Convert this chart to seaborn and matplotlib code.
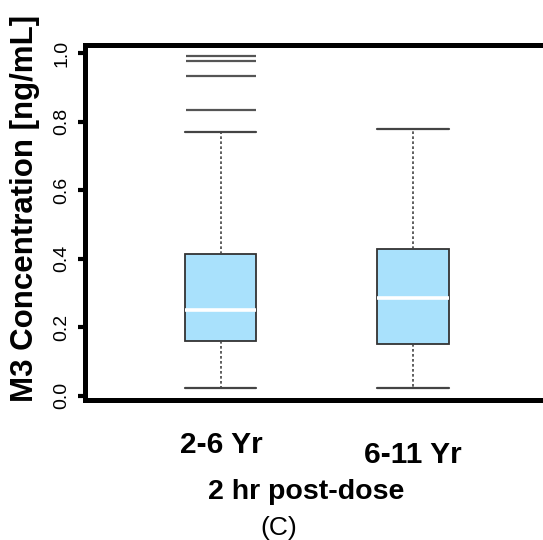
import matplotlib
matplotlib.use("Agg")
import matplotlib.pyplot as plt
import matplotlib.transforms as mtransforms
import numpy as np
import pandas as pd
import seaborn as sns

# Summary statistics of M3 concentration (ng/mL) by age group, 2 hr post-dose
groups = ["2-6 Yr", "6-11 Yr"]
whisker_low = [0.022, 0.022]
quartile_1 = [0.160, 0.151]
medians = [0.250, 0.286]
quartile_3 = [0.414, 0.428]
whisker_high = [0.770, 0.778]

# Observations beyond the upper whisker
outlier_group = ["2-6 Yr", "2-6 Yr", "2-6 Yr", "2-6 Yr"]
outlier_values = [0.834, 0.935, 0.978, 0.991]

y_ticks = [0.0, 0.2, 0.4, 0.6, 0.8, 1.0]
y_tick_labels = ["0.0", "0.2", "0.4", "0.6", "0.8", "1.0"]

# Five-number summaries as a long table; with five points per group the
# linear-interpolated quartiles fall exactly on the summary values.
rows = []
for i, g in enumerate(groups):
    for v in (whisker_low[i], quartile_1[i], medians[i], quartile_3[i], whisker_high[i]):
        rows.append({"group": g, "conc": v})
summary = pd.DataFrame(rows)
outliers = pd.DataFrame({"group": outlier_group, "conc": outlier_values})

sns.set_style("white")
plt.rcParams["font.family"] = ["Liberation Sans", "DejaVu Sans"]
plt.rcParams["text.color"] = "black"
plt.rcParams["axes.labelcolor"] = "black"
plt.rcParams["xtick.color"] = "black"
plt.rcParams["ytick.color"] = "black"

fig = plt.figure(figsize=(5.43, 5.40), dpi=100)
ax = fig.add_axes([85 / 543, 140 / 540, 1 - 85 / 543, 355 / 540])

box_w = 0.37
sns.boxplot(
    data=summary, x="group", y="conc", order=groups, ax=ax,
    color="#A9E1FC", saturation=1, width=box_w, whis=(0, 100),
    showfliers=False, linewidth=1.3, linecolor="#333333",
    medianprops={"color": "white", "linewidth": 2.6},
    whiskerprops={"color": "#444444", "linewidth": 1.2, "linestyle": (0, (1.6, 1.4))},
    capprops={"color": "#444444", "linewidth": 1.6},
    capwidths=box_w,
)

# Outliers drawn as horizontal strokes spanning the box width
sns.stripplot(
    data=outliers, x="group", y="conc", order=groups, ax=ax,
    jitter=False, marker="_", size=51, linewidth=1.6,
    color="#555555", edgecolor="#555555",
)

ax.set_xlim(-0.708, 1.677)
ax.set_ylim(-0.0126, 1.0242)
ax.set_yticks(y_ticks)
ax.set_yticklabels(y_tick_labels)

for side in ("left", "top", "bottom"):
    ax.spines[side].set_visible(True)
    ax.spines[side].set_linewidth(3.6)
    ax.spines[side].set_color("black")
ax.spines["right"].set_visible(False)

ax.tick_params(axis="y", left=True, length=5, width=3, color="black",
               direction="out", pad=5.5, labelsize=14, labelrotation=90,
               labelcolor="black")
for lab in ax.get_yticklabels():
    lab.set_va("center")
    lab.set_ha("right")

ax.tick_params(axis="x", bottom=False, length=0, pad=22, labelsize=21.5,
               labelcolor="black")
for lab in ax.get_xticklabels():
    lab.set_fontweight("bold")
# the second group label sits slightly lower
xlabs = ax.get_xticklabels()
xlabs[1].set_transform(xlabs[1].get_transform()
                       + mtransforms.ScaledTranslation(0, -10 / 100, fig.dpi_scale_trans))

ax.set_xlabel("2 hr post-dose", fontsize=20.5, fontweight="bold", va="center",
              color="black")
ax.xaxis.set_label_coords(0.4825, -0.259)
ax.set_ylabel("M3 Concentration [ng/mL]", fontsize=22.5, fontweight="bold", va="center",
              color="black")
ax.yaxis.set_label_coords(-0.1310, 0.540)

fig.text(279 / 543, 1 - 528 / 540, "(C)", ha="center", va="center", fontsize=19,
         color="black")

fig.savefig("out.png", dpi=100)
